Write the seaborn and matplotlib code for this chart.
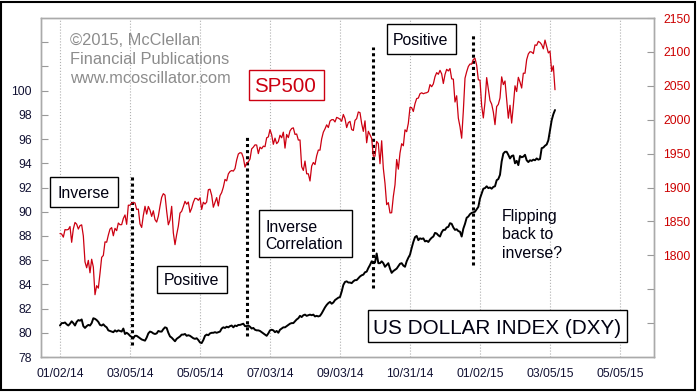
import numpy as np
import pandas as pd
import matplotlib
matplotlib.use("Agg")
import matplotlib.pyplot as plt
from matplotlib.patches import Rectangle
import seaborn as sns

# daily closes, trading days from 01/02/14 to 03/10/15
sp500 = [
    1832.0, 1831.4, 1826.8, 1837.9, 1837.5, 1838.1, 1842.4, 1819.2, 1838.9, 1848.4,
    1845.9, 1838.7, 1843.8, 1844.9, 1828.5, 1790.3, 1781.6, 1792.5, 1774.2, 1794.2,
    1782.6, 1741.9, 1755.2, 1751.6, 1773.4, 1797.0, 1799.8, 1819.8, 1819.3, 1829.8,
    1838.6, 1840.8, 1828.8, 1839.8, 1836.3, 1847.6, 1845.1, 1845.2, 1854.3, 1859.5,
    1845.7, 1873.9, 1873.8, 1877.0, 1878.0, 1877.2, 1867.6, 1868.2, 1846.3, 1841.1,
    1858.8, 1872.3, 1860.8, 1872.0, 1866.5, 1857.4, 1865.6, 1852.6, 1849.0, 1857.6,
    1872.3, 1885.5, 1890.9, 1888.8, 1865.1, 1845.0, 1852.0, 1872.2, 1833.1, 1815.7,
    1830.6, 1843.0, 1862.3, 1864.9, 1871.9, 1879.6, 1875.4, 1878.6, 1863.4, 1869.4,
    1878.3, 1884.0, 1883.7, 1881.1, 1884.7, 1867.7, 1878.2, 1875.6, 1878.5, 1896.7,
    1897.5, 1888.5, 1870.9, 1877.9, 1885.1, 1872.8, 1888.0, 1892.5, 1900.5, 1911.9,
    1909.8, 1920.0, 1923.6, 1925.0, 1924.2, 1927.9, 1940.5, 1949.4, 1951.3, 1950.8,
    1943.9, 1930.1, 1936.2, 1937.8, 1942.0, 1957.0, 1959.5, 1962.9, 1962.6, 1950.0,
    1959.5, 1957.2, 1961.0, 1960.2, 1973.3, 1974.6, 1985.4, 1977.7, 1963.7, 1972.8,
    1964.7, 1967.6, 1977.1, 1973.3, 1981.6, 1958.1, 1978.2, 1973.6, 1983.5, 1987.0,
    1988.0, 1978.3, 1978.9, 1970.0, 1970.1, 1930.7, 1925.2, 1939.0, 1920.2, 1920.2,
    1909.6, 1931.6, 1936.9, 1933.8, 1946.7, 1955.2, 1955.1, 1971.7, 1981.6, 1986.5,
    1992.4, 1988.4, 1997.9, 2000.0, 2000.1, 1996.7, 2003.4, 2002.3, 2000.7, 1997.7,
    2007.7, 2001.5, 1988.4, 1995.7, 1997.5, 1985.5, 1984.1, 1999.0, 2001.6, 2011.4,
    2010.4, 1994.3, 1982.8, 1998.3, 1966.0, 1982.9, 1977.8, 1972.3, 1946.2, 1946.2,
    1967.9, 1964.8, 1935.1, 1968.9, 1928.2, 1906.1, 1874.7, 1877.7, 1862.5, 1862.8,
    1886.8, 1904.0, 1941.3, 1927.1, 1950.8, 1964.6, 1961.6, 1985.1, 1982.3, 1994.7,
    2018.1, 2017.8, 2012.1, 2023.6, 2031.2, 2031.9, 2038.3, 2039.7, 2038.3, 2039.3,
    2039.8, 2041.3, 2051.8, 2048.7, 2052.8, 2063.5, 2069.4, 2067.0, 2072.8, 2067.6,
    2053.4, 2066.6, 2074.3, 2071.9, 2075.4, 2060.3, 2059.8, 2026.1, 2035.3, 2002.3,
    1989.6, 1972.7, 2012.9, 2061.2, 2070.7, 2078.5, 2082.2, 2081.9, 2088.8, 2090.6,
    2080.4, 2058.9, 2058.2, 2020.6, 2002.6, 2025.9, 2062.1, 2044.8, 2028.3, 2023.0,
    2011.3, 1992.7, 2019.4, 2022.6, 2032.1, 2063.2, 2051.8, 2057.1, 2029.6, 2002.2,
    2021.3, 1995.0, 2020.9, 2050.0, 2041.5, 2062.5, 2055.5, 2046.7, 2068.6, 2068.5,
    2088.5, 2097.0, 2100.3, 2099.7, 2097.5, 2110.3, 2109.7, 2115.5, 2113.9, 2110.7,
    2104.5, 2117.4, 2107.8, 2098.5, 2101.0, 2071.3, 2079.4, 2044.2,
]

dxy = [
    80.60, 80.80, 80.80, 80.85, 80.70, 80.60, 80.75, 80.95, 80.80, 80.60,
    80.90, 81.05, 81.00, 81.10, 80.55, 80.40, 80.55, 80.65, 80.60, 80.80,
    81.20, 81.15, 81.05, 80.90, 80.65, 80.60, 80.70, 80.55, 80.45, 80.20,
    80.15, 80.10, 80.05, 80.20, 80.10, 80.20, 80.15, 80.10, 80.35, 79.90,
    80.00, 79.90, 79.75, 79.65, 79.55, 79.75, 79.75, 79.65, 79.55, 79.45,
    79.40, 79.35, 79.60, 79.95, 80.10, 80.05, 79.95, 79.90, 79.95, 80.15,
    80.10, 80.10, 80.30, 80.45, 80.40, 80.00, 79.70, 79.60, 79.45, 79.30,
    79.50, 79.60, 79.70, 79.85, 79.85, 79.90, 79.75, 79.80, 79.75, 79.65,
    79.55, 79.50, 79.55, 79.40, 79.20, 79.15, 79.40, 79.75, 79.85, 79.80,
    79.95, 80.00, 80.00, 80.05, 80.00, 80.05, 80.10, 80.35, 80.45, 80.40,
    80.50, 80.45, 80.55, 80.60, 80.45, 80.60, 80.55, 80.65, 80.65, 80.70,
    80.75, 80.55, 80.55, 80.60, 80.50, 80.35, 80.40, 80.25, 80.20, 80.20,
    80.15, 80.05, 79.95, 79.85, 79.75, 79.95, 80.20, 80.25, 80.20, 80.05,
    80.15, 80.00, 80.25, 80.35, 80.45, 80.45, 80.55, 80.65, 80.75, 80.80,
    80.80, 80.95, 81.10, 81.20, 81.40, 81.30, 81.45, 81.50, 81.40, 81.45,
    81.50, 81.45, 81.50, 81.35, 81.40, 81.35, 81.40, 81.60, 81.85, 82.10,
    82.30, 82.45, 82.55, 82.40, 82.50, 82.70, 82.80, 82.90, 82.95, 83.40,
    83.95, 84.20, 84.25, 84.15, 84.15, 84.10, 84.25, 84.35, 84.35, 84.50,
    84.65, 84.75, 84.80, 85.00, 85.05, 85.35, 85.60, 85.90, 85.85, 85.80,
    86.55, 85.75, 85.75, 85.90, 85.75, 85.45, 85.60, 85.75, 85.30, 84.95,
    85.10, 85.20, 85.30, 85.50, 85.70, 85.75, 85.55, 85.45, 85.90, 86.20,
    86.45, 87.00, 87.50, 87.90, 88.00, 87.65, 87.80, 87.75, 87.80, 87.55,
    87.60, 87.50, 87.70, 87.85, 87.95, 88.25, 88.20, 88.05, 87.95, 88.30,
    88.50, 88.50, 88.70, 88.75, 89.05, 89.00, 88.70, 88.50, 88.55, 88.40,
    88.35, 87.95, 88.60, 89.00, 89.50, 89.60, 89.80, 89.90, 89.95, 90.00,
    90.20, 90.40, 91.10, 91.50, 91.90, 91.95, 92.10, 91.95, 92.00, 91.90,
    92.05, 92.10, 92.60, 92.70, 93.05, 94.15, 94.80, 94.95, 94.95, 94.70,
    94.40, 94.60, 94.65, 94.00, 94.20, 93.85, 94.60, 94.50, 94.55, 94.70,
    94.25, 94.10, 94.25, 94.20, 94.30, 94.25, 94.40, 94.30, 94.35, 95.25,
    95.30, 95.45, 95.55, 95.90, 96.75, 97.55, 98.05, 98.40,
]

tick_days = [0, 42, 84, 126, 168, 210, 252, 294, 336]
tick_labels = ["01/02/14", "03/05/14", "05/05/14", "07/03/14", "09/03/14",
               "10/31/14", "01/02/15", "03/05/15", "05/05/15"]
left_ticks = list(range(78, 106, 2))
right_ticks = list(range(1700, 2151, 50))

# dotted separators: day, top and bottom in DXY units
splits = [(43, 93.0, 79.0), (112, 96.2, 79.7), (188, 103.6, 83.7), (248, 104.7, 85.6)]

df = pd.DataFrame({"day": np.arange(len(sp500)), "SP500": sp500, "DXY": dxy})

sns.set_style("white")
plt.rcParams["font.family"] = ["Liberation Sans", "DejaVu Sans"]

W, H = 698, 392
fig = plt.figure(figsize=(W / 100, H / 100), dpi=100)
ax = fig.add_axes([41 / W, 35 / H, 613 / W, 339 / H])
ax2 = ax.twinx()

sns.lineplot(data=df, x="day", y="DXY", ax=ax, color="black", lw=1.4)
sns.lineplot(data=df, x="day", y="SP500", ax=ax2, color="#cc0011", lw=0.9)

for d, top, bot in splits:
    ax.plot([d, d], [bot, top], color="black", lw=2.2, ls=(0, (1, 1)))

ax.set_xlim(-11.4, 356.4)
ax.set_ylim(78, 106)
ax2.set_ylim(1650, 2150)
ax.set_xticks(tick_days)
ax.set_xticklabels(tick_labels)
ax.set_yticks(left_ticks)
ax.set_yticklabels([str(v) if v <= 100 else "" for v in left_ticks])
ax2.set_yticks(right_ticks)
ax2.set_yticklabels([str(v) if v >= 1800 else "" for v in right_ticks])
ax.set_xlabel("")
ax.set_ylabel("")
ax2.set_ylabel("")
ax.grid(axis="x", color="#b0b0b0", ls=":", lw=0.8)

ax.tick_params(axis="y", direction="in", length=5, color="#999999",
               labelsize=8.7, labelcolor="#111133", pad=6.5)
ax.tick_params(axis="x", length=0, labelsize=8.7, labelcolor="#111133", pad=8)
ax2.tick_params(axis="y", direction="in", length=5, color="#999999",
                labelsize=8.7, labelcolor="#cc0000", pad=6.5)
for a in (ax, ax2):
    for s in a.spines.values():
        s.set_color("#aaaaaa")
        s.set_linewidth(1)


def fx(x):
    return x / W


def fy(y):
    return 1 - y / H


def box(x0, y0, x1, y1, ec="black"):
    fig.add_artist(Rectangle((fx(x0), fy(y1)), (x1 - x0) / W, (y1 - y0) / H,
                             transform=fig.transFigure, fc="white", ec=ec,
                             lw=1, zorder=5))


def label(x, y, s, size=11.4, color="#000011"):
    fig.text(fx(x), fy(y), s, fontsize=size, color=color, ha="left",
             va="center_baseline", zorder=6)


box(50, 177.3, 118.3, 206.7)
label(57.3, 191.7, "Inverse")
box(156.7, 265.7, 226.7, 293.3)
label(163.3, 279, "Positive")
box(259.3, 210, 351.7, 256.7)
label(265.7, 226, "Inverse")
label(265.7, 243.3, "Correlation")
box(386.7, 24.3, 455.7, 54.3)
label(392.7, 39, "Positive")
box(249.3, 70, 324.3, 100, ec="#cc0011")
label(254.3, 85, "SP500", size=14.8, color="#cc0011")
box(368.3, 310, 626.7, 341.7)
label(373.3, 326, "US DOLLAR INDEX (DXY)", size=14.9)

for y, s in zip([215, 233.3, 251.7], ["Flipping", "back to", "inverse?"]):
    label(501.7, y, s)
for y, s in zip([39.3, 58.3, 76.7], ["©2015, McClellan", "Financial Publications",
                                     "www.mcoscillator.com"]):
    label(70, y, s, size=11.8, color="#8c8c8c")

fig.add_artist(Rectangle((0.002, 0.004), 0.994, 0.99, transform=fig.transFigure,
                         fill=False, ec="black", lw=1.5, zorder=7))

fig.savefig("out.png", dpi=100)
